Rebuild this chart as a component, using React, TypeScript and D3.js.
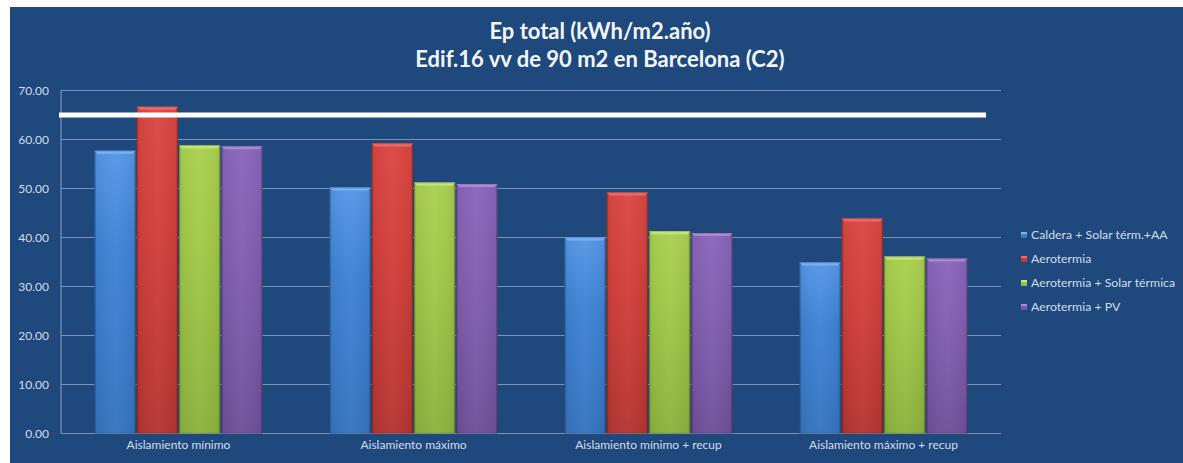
import React from "react";
import * as d3 from "d3";

// Scenarios along the x axis
const categories = [
  "Aislamiento mínimo",
  "Aislamiento máximo",
  "Aislamiento mínimo + recup",
  "Aislamiento máximo + recup",
];

// Installed systems (one bar per scenario each)
const seriesNames = [
  "Caldera + Solar térm.+AA",
  "Aerotermia",
  "Aerotermia + Solar térmica",
  "Aerotermia + PV",
];

// Primary energy, kWh/m2·año
const calderaSolarAA = [57.7, 50.2, 40.0, 34.9];
const aerotermia = [66.7, 59.2, 49.2, 43.9];
const aerotermiaSolar = [58.8, 51.2, 41.3, 36.1];
const aerotermiaPV = [58.6, 50.9, 40.9, 35.7];

const seriesValues = [calderaSolarAA, aerotermia, aerotermiaSolar, aerotermiaPV];

// Limit marked by the white horizontal line
const limitValue = 65;

const yTicks = [0, 10, 20, 30, 40, 50, 60, 70];

const titleLines = ["Ep total (kWh/m2.año)", "Edif.16 vv de 90 m2 en Barcelona (C2)"];

const palette = [
  { top: "#5597e6", mid: "#3f84d6", bottom: "#3674c0", bevel: "#78b2f3" },
  { top: "#dc4743", mid: "#d4403c", bottom: "#b63531", bevel: "#ec6b67" },
  { top: "#aad150", mid: "#a2c948", bottom: "#8eb33f", bevel: "#c6e67a" },
  { top: "#8b65bb", mid: "#8460b2", bottom: "#70509a", bevel: "#a98ad3" },
];

const W = 1183;
const H = 463;
const plot = { left: 61, right: 1001, top: 90.5, bottom: 433.5 };
const FONT = "Lato, 'Open Sans', sans-serif";

export default function App() {
  const x0 = d3
    .scaleBand<string>()
    .domain(categories)
    .range([plot.left, plot.right])
    .paddingInner(0.285)
    .paddingOuter(0.1425);
  const x1 = d3
    .scaleBand<number>()
    .domain(d3.range(seriesNames.length))
    .range([0, x0.bandwidth()])
    .paddingInner(0.025);
  const y = d3.scaleLinear().domain([0, 70]).range([plot.bottom, plot.top]);

  const gridColor = "#7f93b0";
  const textColor = "#d3dcea";

  return (
    <svg
      width={W}
      height={H}
      style={{ position: "absolute", left: 0, top: 0, display: "block" }}
    >
      <defs>
        {palette.map((c, i) => (
          <linearGradient key={`v${i}`} id={`vg${i}`} x1="0" y1="0" x2="0" y2="1">
            <stop offset="0%" stopColor={c.top} />
            <stop offset="35%" stopColor={c.mid} />
            <stop offset="100%" stopColor={c.bottom} />
          </linearGradient>
        ))}
        <linearGradient id="edge" x1="0" y1="0" x2="1" y2="0">
          <stop offset="0%" stopColor="#000" stopOpacity={0.28} />
          <stop offset="5%" stopColor="#000" stopOpacity={0.05} />
          <stop offset="50%" stopColor="#fff" stopOpacity={0.03} />
          <stop offset="95%" stopColor="#000" stopOpacity={0.05} />
          <stop offset="100%" stopColor="#000" stopOpacity={0.3} />
        </linearGradient>
      </defs>

      <rect x={0} y={0} width={W} height={H} fill="#ffffff" />
      <rect x={10} y={7} width={W - 10} height={H - 7} fill="#1f497d" />

      {/* Title */}
      {titleLines.map((t, i) => (
        <text
          key={t}
          x={600}
          y={39 + i * 27.5}
          textAnchor="middle"
          fill="#f2f5fa"
          fontFamily={FONT}
          fontWeight={700}
          fontSize={22}
        >
          {t}
        </text>
      ))}

      {/* Horizontal grid and y tick labels */}
      {yTicks.map((v) => (
        <g key={v}>
          <line
            x1={plot.left}
            x2={plot.right}
            y1={y(v)}
            y2={y(v)}
            stroke={gridColor}
            strokeWidth={1.2}
          />
          <text
            x={49}
            y={y(v)}
            dy="0.35em"
            textAnchor="end"
            fill={textColor}
            fontFamily={FONT}
            fontSize={12}
          >
            {d3.format(".2f")(v)}
          </text>
        </g>
      ))}
      <line
        x1={plot.left}
        x2={plot.left}
        y1={y(70)}
        y2={y(0)}
        stroke={gridColor}
        strokeWidth={1.2}
      />

      {/* Bars */}
      {categories.map((cat, ci) => (
        <g key={cat} transform={`translate(${x0(cat)},0)`}>
          {seriesValues.map((vals, si) => {
            const bx = x1(si) as number;
            const bw = x1.bandwidth();
            const by = y(vals[ci]);
            const bh = y(0) - by;
            const c = palette[si];
            const bev = 3;
            return (
              <g key={si}>
                <rect x={bx} y={by} width={bw} height={bh} fill={`url(#vg${si})`} />
                <rect x={bx} y={by} width={bw} height={bh} fill="url(#edge)" />
                <path
                  d={`M${bx},${by} L${bx + bw},${by} L${bx + bw - bev},${by + bev} L${bx + bev},${by + bev} Z`}
                  fill={c.bevel}
                />
                <rect
                  x={bx + 0.5}
                  y={by + 0.5}
                  width={bw - 1}
                  height={bh - 1}
                  fill="none"
                  stroke="#000"
                  strokeOpacity={0.12}
                />
              </g>
            );
          })}
        </g>
      ))}

      {/* Limit line */}
      <line
        x1={59}
        x2={986}
        y1={y(limitValue)}
        y2={y(limitValue)}
        stroke="#ffffff"
        strokeWidth={5}
      />

      {/* Category labels */}
      {categories.map((cat) => (
        <text
          key={cat}
          x={(x0(cat) as number) + x0.bandwidth() / 2}
          y={449}
          textAnchor="middle"
          fill={textColor}
          fontFamily={FONT}
          fontSize={12}
        >
          {cat}
        </text>
      ))}

      {/* Legend */}
      {seriesNames.map((name, i) => (
        <g key={name} transform={`translate(1021,${235 + i * 24})`}>
          <rect x={0} y={-3} width={6} height={6} fill={`url(#vg${i})`} />
          <rect x={0} y={-3} width={6} height={2} fill={palette[i].bevel} />
          <text
            x={10}
            y={0}
            dy="0.35em"
            fill={textColor}
            fontFamily={FONT}
            fontSize={12.3}
          >
            {name}
          </text>
        </g>
      ))}
    </svg>
  );
}
